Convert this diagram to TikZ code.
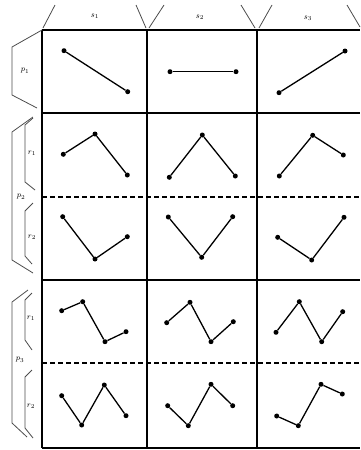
\documentclass[tikz,border=0pt]{standalone}
\begin{document}
\begin{tikzpicture}[x=1pt,y=-1pt,
  gridline/.style={line width=1.4pt},
  sepline/.style={line width=1.2pt, dash pattern=on 5pt off 3pt},
  dot/.style={circle, fill, inner sep=0pt, minimum size=5pt},
  seg/.style={line width=1.3pt},
  brk/.style={line width=0.8pt, black!70},
  lab/.style={font=\footnotesize, inner sep=1pt}]
\useasboundingbox (0,0) rectangle (360,450);
% grid
\draw[gridline] (42,30) -- (360,30);
\draw[gridline] (42,113) -- (360,113);
\draw[gridline] (42,280) -- (360,280);
\draw[gridline] (42,448) -- (360,448);
\draw[sepline] (42,197) -- (360,197);
\draw[sepline] (42,363) -- (360,363);
\draw[gridline] (42,30) -- (42,448);
\draw[gridline] (147,30) -- (147,448);
\draw[gridline] (257,30) -- (257,448);
% header brackets
\draw[brk] (43,28) -- (55,5);
\draw[brk] (146,28) -- (136,5);
\node[lab] (s1) at (95,16) {$s_1$};
\draw[brk] (149,28) -- (164,5);
\draw[brk] (255,28) -- (241,5);
\node[lab] (s2) at (200,17) {$s_2$};
\draw[brk] (259,28) -- (272,5);
\draw[brk] (360,27) -- (347,5);
\node[lab] (s3) at (308,18) {$s_3$};
% left brackets
\draw[brk] (42,30) -- (12,47) -- (12,95) -- (37,108);
\node[lab] (p1) at (25,71) {$p_1$};
\draw[brk] (33,117) -- (12,132) -- (12,260) -- (33,273);
\node[lab] (p2) at (21,197) {$p_2$};
\draw[brk] (33,118) -- (25,125) -- (25,182) -- (35,190);
\node[lab] (r21) at (32,153) {$r_1$};
\draw[brk] (33,203) -- (25,211) -- (25,256) -- (32,264);
\node[lab] (r22) at (32,237) {$r_2$};
\draw[brk] (28,290) -- (12,302) -- (12,423) -- (27,437);
\node[lab] (p3) at (20,360) {$p_3$};
\draw[brk] (32,293) -- (25,300) -- (25,340) -- (32,350);
\node[lab] (r31) at (31,318) {$r_1$};
\draw[brk] (32,370) -- (25,377) -- (25,428) -- (33,438);
\node[lab] (r32) at (31,406) {$r_2$};
% row 1
\node[dot] (a1) at (64,50.7) {};
\node[dot] (a2) at (127.7,91.7) {};
\draw[seg] (a1) -- (a2);
\node[dot] (b1) at (170,71.7) {};
\node[dot] (b2) at (236,71.7) {};
\draw[seg] (b1) -- (b2);
\node[dot] (c1) at (279,92.7) {};
\node[dot] (c2) at (345,51) {};
\draw[seg] (c1) -- (c2);
% row 2
\node[dot] (d1) at (63.3,154.3) {};
\node[dot] (d2) at (95,134) {};
\node[dot] (d3) at (127.3,175) {};
\draw[seg] (d1) -- (d2) -- (d3);
\node[dot] (e1) at (169.3,177.3) {};
\node[dot] (e2) at (202.3,135) {};
\node[dot] (e3) at (235.3,176) {};
\draw[seg] (e1) -- (e2) -- (e3);
\node[dot] (f1) at (279.3,176) {};
\node[dot] (f2) at (312.7,135.3) {};
\node[dot] (f3) at (343.3,155) {};
\draw[seg] (f1) -- (f2) -- (f3);
% row 3
\node[dot] (g1) at (62.7,216.7) {};
\node[dot] (g2) at (95,259) {};
\node[dot] (g3) at (127.3,236.7) {};
\draw[seg] (g1) -- (g2) -- (g3);
\node[dot] (h1) at (168.3,217) {};
\node[dot] (h2) at (201.7,257.3) {};
\node[dot] (h3) at (232.7,216.7) {};
\draw[seg] (h1) -- (h2) -- (h3);
\node[dot] (i1) at (277.7,237.3) {};
\node[dot] (i2) at (311.7,260) {};
\node[dot] (i3) at (344,217.3) {};
\draw[seg] (i1) -- (i2) -- (i3);
% row 4
\node[dot] (j1) at (61.7,310.7) {};
\node[dot] (j2) at (82.7,301.7) {};
\node[dot] (j3) at (105,341.7) {};
\node[dot] (j4) at (126,331.7) {};
\draw[seg] (j1) -- (j2) -- (j3) -- (j4);
\node[dot] (k1) at (166.7,322.7) {};
\node[dot] (k2) at (190,302.3) {};
\node[dot] (k3) at (211,341.7) {};
\node[dot] (k4) at (233.3,321.7) {};
\draw[seg] (k1) -- (k2) -- (k3) -- (k4);
\node[dot] (l1) at (276,332.3) {};
\node[dot] (l2) at (299.3,301.7) {};
\node[dot] (l3) at (321.7,341.7) {};
\node[dot] (l4) at (342.7,311.7) {};
\draw[seg] (l1) -- (l2) -- (l3) -- (l4);
% row 5
\node[dot] (m1) at (61.7,395.7) {};
\node[dot] (m2) at (81.7,425) {};
\node[dot] (m3) at (104.3,385) {};
\node[dot] (m4) at (126,415.7) {};
\draw[seg] (m1) -- (m2) -- (m3) -- (m4);
\node[dot] (n1) at (167.7,405.7) {};
\node[dot] (n2) at (188.3,425.7) {};
\node[dot] (n3) at (211,384.3) {};
\node[dot] (n4) at (232.7,405.7) {};
\draw[seg] (n1) -- (n2) -- (n3) -- (n4);
\node[dot] (o1) at (276.7,416) {};
\node[dot] (o2) at (298.3,425.7) {};
\node[dot] (o3) at (321,384.3) {};
\node[dot] (o4) at (342.3,394) {};
\draw[seg] (o1) -- (o2) -- (o3) -- (o4);
\end{tikzpicture}
\end{document}
